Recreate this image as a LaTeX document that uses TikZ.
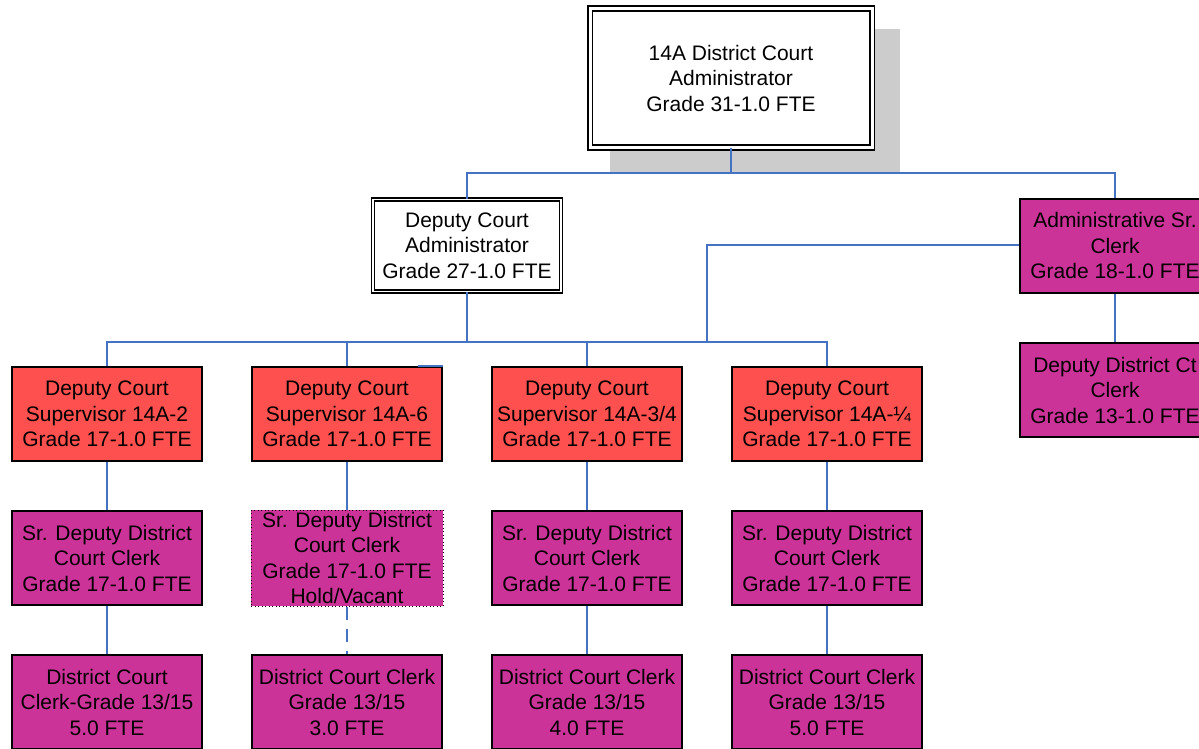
\documentclass[tikz,border=0pt]{standalone}
\usepackage{fontspec}
\setmainfont{Liberation Sans}
\definecolor{boxred}{HTML}{FF5050}
\definecolor{boxmag}{HTML}{CC3399}
\definecolor{connblue}{HTML}{4472C4}
\definecolor{shadowgray}{HTML}{CCCCCC}
\begin{document}
\begin{tikzpicture}[x=1pt,y=-1pt,
  txt/.style={font=\fontsize{21}{25.5}\selectfont, align=center, inner sep=0pt, text=black},
  redbox/.style={txt, draw=black, line width=2pt, fill=boxred, minimum width=190pt, minimum height=94pt},
  magbox/.style={txt, draw=black, line width=2pt, fill=boxmag, minimum width=190pt, minimum height=94pt},
  vacbox/.style={txt, draw=black, line width=1pt, dash pattern=on 1pt off 2.5pt, fill=boxmag, minimum width=192pt, minimum height=96pt},
  topbox/.style={txt, draw=black, line width=1.6pt, double=white, double distance=3pt, fill=white, minimum width=282pt, minimum height=139pt},
  dcabox/.style={txt, draw=black, line width=1.3pt, double=white, double distance=1.8pt, fill=white, minimum width=188pt, minimum height=92pt},
  conn/.style={draw=connblue, line width=1.5pt},
  dashconn/.style={conn, dash pattern=on 13pt off 9pt}
]
\useasboundingbox (0,0) rectangle (1199,749);
\clip (0,0) rectangle (1199,749);

% shadow of top box
\fill[shadowgray] (610,29) rectangle (900,173);

% nodes
\node[topbox] (top) at (731,78) {14A District Court\\Administrator\\Grade 31-1.0 FTE};
\node[dcabox] (dca) at (467,245.5) {Deputy Court\\Administrator\\Grade 27-1.0 FTE};
\node[magbox] (asc) at (1115,245.5) {Administrative Sr.\\Clerk\\Grade 18-1.0 FTE};
\node[magbox] (ddc) at (1115,390) {Deputy District Ct\\Clerk\\Grade 13-1.0 FTE};

\node[redbox] (s2) at (107,414) {Deputy Court\\Supervisor 14A-2\\Grade 17-1.0 FTE};
\node[redbox] (s6) at (347,414) {Deputy Court\\Supervisor 14A-6\\Grade 17-1.0 FTE};
\node[redbox] (s34) at (587,414) {Deputy Court\\Supervisor 14A-3/4\\Grade 17-1.0 FTE};
\node[redbox] (s14) at (827,414) {Deputy Court\\Supervisor 14A-\textonequarter\\Grade 17-1.0 FTE};

\node[magbox] (r2) at (107,558) {Sr. Deputy District\\Court Clerk\\Grade 17-1.0 FTE};
\node[vacbox] (r6) at (347,558) {Sr. Deputy District\\Court Clerk\\Grade 17-1.0 FTE\\Hold/Vacant};
\node[magbox] (r34) at (587,558) {Sr. Deputy District\\Court Clerk\\Grade 17-1.0 FTE};
\node[magbox] (r14) at (827,558) {Sr. Deputy District\\Court Clerk\\Grade 17-1.0 FTE};

\node[magbox] (c2) at (107,702) {District Court\\Clerk-Grade 13/15\\5.0 FTE};
\node[magbox] (c6) at (347,702) {District Court Clerk\\Grade 13/15\\3.0 FTE};
\node[magbox] (c34) at (587,702) {District Court Clerk\\Grade 13/15\\4.0 FTE};
\node[magbox] (c14) at (827,702) {District Court Clerk\\Grade 13/15\\5.0 FTE};

% junction coordinates
\coordinate (j1) at (731,173);
\coordinate (j2) at (467,342);
\coordinate (j3) at (707,342);

% connectors
\draw[conn] (top.south) -- (top.south |- j1);
\draw[conn] (dca.north) -- (dca.north |- j1) -- (asc.north |- j1) -- (asc.north);
\draw[conn] (dca.south) -- (j2);
\draw[conn] (s2.north) -- (s2.north |- j2) -- (s14.north |- j2) -- (s14.north);
\draw[conn] (s6.north |- j2) -- (s6.north);
\draw[conn] (s34.north |- j2) -- (s34.north);
\draw[conn] ([yshift=0.5pt]asc.west) -- ([yshift=0.5pt]asc.west -| j3) -- (j3);
\draw[conn] (asc.south) -- (ddc.north);
\draw[conn] ([xshift=-25pt]s6.north east) -- (s6.north east);

\draw[conn] (s2.south) -- (r2.north);
\draw[conn] (r2.south) -- (c2.north);
\draw[conn] (s6.south) -- (r6.north);
\draw[dashconn] (r6.south) -- (c6.north);
\draw[conn] (s34.south) -- (r34.north);
\draw[conn] (r34.south) -- (c34.north);
\draw[conn] (s14.south) -- (r14.north);
\draw[conn] (r14.south) -- (c14.north);
\end{tikzpicture}
\end{document}
